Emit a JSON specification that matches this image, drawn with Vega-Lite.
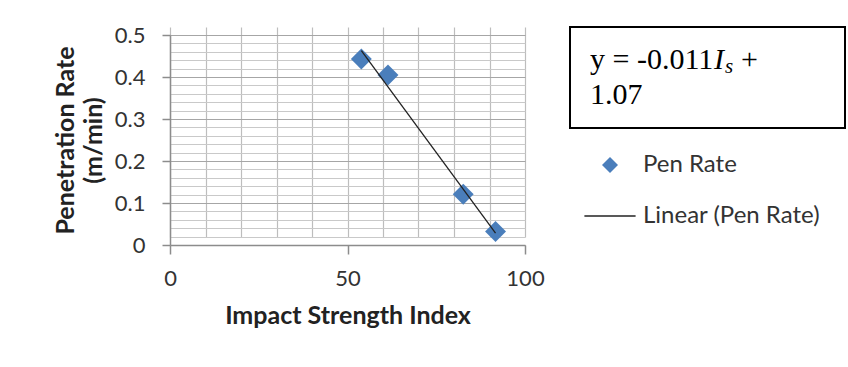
{
  "$schema": "https://vega.github.io/schema/vega-lite/v6.json",
  "padding": {"left": 53, "top": 24, "right": 0, "bottom": 0},
  "background": "white",
  "config": {"font": "Lato", "concat": {"spacing": 24}},
  "hconcat": [
    {
      "width": 355,
      "height": 218,
      "view": {"stroke": null},
      "data": {"values": [
        {"impact": 53.9, "rate": 0.443, "series": "Pen Rate"},
        {"impact": 61.4, "rate": 0.405, "series": "Pen Rate"},
        {"impact": 82.6, "rate": 0.121, "series": "Pen Rate"},
        {"impact": 91.7, "rate": 0.032, "series": "Pen Rate"}
      ]},
      "layer": [
        {
          "mark": {"type": "point", "filled": true, "opacity": 1, "size": 440},
          "encoding": {
            "x": {"field": "impact", "type": "quantitative",
              "scale": {"domain": [0, 100], "nice": false},
              "axis": {
                "title": "Impact Strength Index",
                "values": [0, 10, 20, 30, 40, 50, 60, 70, 80, 90, 100],
                "tickCount": 200,
                "format": "d",
                "grid": true, "gridColor": "#bdbdbd", "gridWidth": 1.2,
                "domainColor": "#8c8c8c", "domainWidth": 1.5,
                "tickColor": "#8c8c8c", "tickWidth": 1.5, "tickSize": 9,
                "tickOpacity": {"condition": {"test": "datum.value % 50 === 0", "value": 1}, "value": 0},
                "labelExpr": "datum.value % 50 === 0 ? datum.label : ''",
                "labelFontSize": 22, "labelColor": "#333", "labelPadding": 14,
                "labelFlush": false, "labelOverlap": false,
                "titleFontSize": 25, "titleFontWeight": "bold", "titleColor": "#222", "titlePadding": 14
              }
            },
            "y": {"field": "rate", "type": "quantitative",
              "scale": {"domain": [0, 0.5], "nice": false, "range": [218, 8]},
              "axis": {
                "title": ["Penetration Rate", "(m/min)"],
                "values": [0, 0.02, 0.04, 0.06, 0.08, 0.1, 0.12, 0.14, 0.16, 0.18, 0.2, 0.22, 0.24, 0.26, 0.28, 0.3, 0.32, 0.34, 0.36, 0.38, 0.4, 0.42, 0.44, 0.46, 0.48, 0.5],
                "tickCount": 200,
                "format": ".1~f",
                "grid": true,
                "gridColor": {"condition": {"test": "abs(datum.value*10 - round(datum.value*10)) < 0.000001", "value": "#a6a6a6"}, "value": "#c9c9c9"},
                "gridWidth": 1.2,
                "domainColor": "#8c8c8c", "domainWidth": 1.5,
                "tickColor": "#8c8c8c", "tickWidth": 1.5, "tickSize": 8,
                "tickOpacity": {"condition": {"test": "abs(datum.value*10 - round(datum.value*10)) < 0.000001", "value": 1}, "value": 0},
                "labelExpr": "abs(datum.value*10 - round(datum.value*10)) < 0.000001 ? datum.label : ''",
                "labelFontSize": 22, "labelColor": "#333", "labelPadding": 17,
                "labelOverlap": false, "labelFlush": false,
                "titleFontSize": 25, "titleFontWeight": "bold", "titleColor": "#222", "titlePadding": 8, "titleLineHeight": 28
              }
            },
            "color": {"field": "series", "type": "nominal",
              "scale": {"domain": ["Pen Rate", "Linear (Pen Rate)"], "range": ["#4a7ebb", "#222222"]},
              "legend": {"orient": "none", "legendX": 428, "legendY": 126, "title": null,
                "labelFontSize": 24, "labelFont": "Lato", "labelColor": "#333", "symbolSize": 256, "labelLimit": 400,
                "labelOffset": 21, "rowPadding": 27, "symbolStrokeWidth": 0, "padding": 0, "symbolOpacity": 1}
            },
            "shape": {"field": "series", "type": "nominal",
              "scale": {"domain": ["Pen Rate", "Linear (Pen Rate)"], "range": ["diamond", "M-3.2,-0.08L3.2,-0.08L3.2,0.08L-3.2,0.08Z"]},
              "legend": {"orient": "none", "legendX": 428, "legendY": 126, "title": null,
                "labelFontSize": 24, "labelFont": "Lato", "labelColor": "#333", "symbolSize": 256, "labelLimit": 400,
                "labelOffset": 21, "rowPadding": 27, "symbolStrokeWidth": 0, "padding": 0, "symbolOpacity": 1}
            }
          }
        },
        {
          "mark": {"type": "line", "color": "#222222", "strokeWidth": 1.3},
          "transform": [{"regression": "rate", "on": "impact", "extent": [53.9, 91.7]}],
          "encoding": {
            "x": {"field": "impact", "type": "quantitative"},
            "y": {"field": "rate", "type": "quantitative"}
          }
        }
      ]
    },
    {
      "width": 275,
      "height": 101,
      "view": {"stroke": "black", "strokeWidth": 2, "fill": "white"},
      "encoding": {
        "x": {"datum": 0, "type": "quantitative", "scale": {"domain": [0, 1]}, "axis": null},
        "y": {"field": "line", "type": "quantitative", "scale": {"domain": [-0.19, 2.69], "reverse": true, "nice": false, "zero": false}, "axis": null}
      },
      "layer": [
        {
          "data": {"values": [{"line": 1, "text": "y = -0.011"}, {"line": 2, "text": "1.07"}]},
          "mark": {"type": "text", "font": "Liberation Serif", "fontSize": 30, "align": "left", "baseline": "alphabetic", "dx": 20, "color": "black"},
          "encoding": {"text": {"field": "text"}}
        },
        {
          "data": {"values": [{"line": 1, "text": "I"}]},
          "mark": {"type": "text", "font": "Liberation Serif", "fontSize": 30, "fontStyle": "italic", "align": "left", "baseline": "alphabetic", "dx": 144, "color": "black"},
          "encoding": {"text": {"field": "text"}}
        },
        {
          "data": {"values": [{"line": 1, "text": "s"}]},
          "mark": {"type": "text", "font": "Liberation Serif", "fontSize": 21, "fontStyle": "italic", "align": "left", "baseline": "alphabetic", "dx": 155, "dy": 4, "color": "black"},
          "encoding": {"text": {"field": "text"}}
        },
        {
          "data": {"values": [{"line": 1, "text": "+"}]},
          "mark": {"type": "text", "font": "Liberation Serif", "fontSize": 30, "align": "left", "baseline": "alphabetic", "dx": 171, "color": "black"},
          "encoding": {"text": {"field": "text"}}
        }
      ]
    }
  ]
}
